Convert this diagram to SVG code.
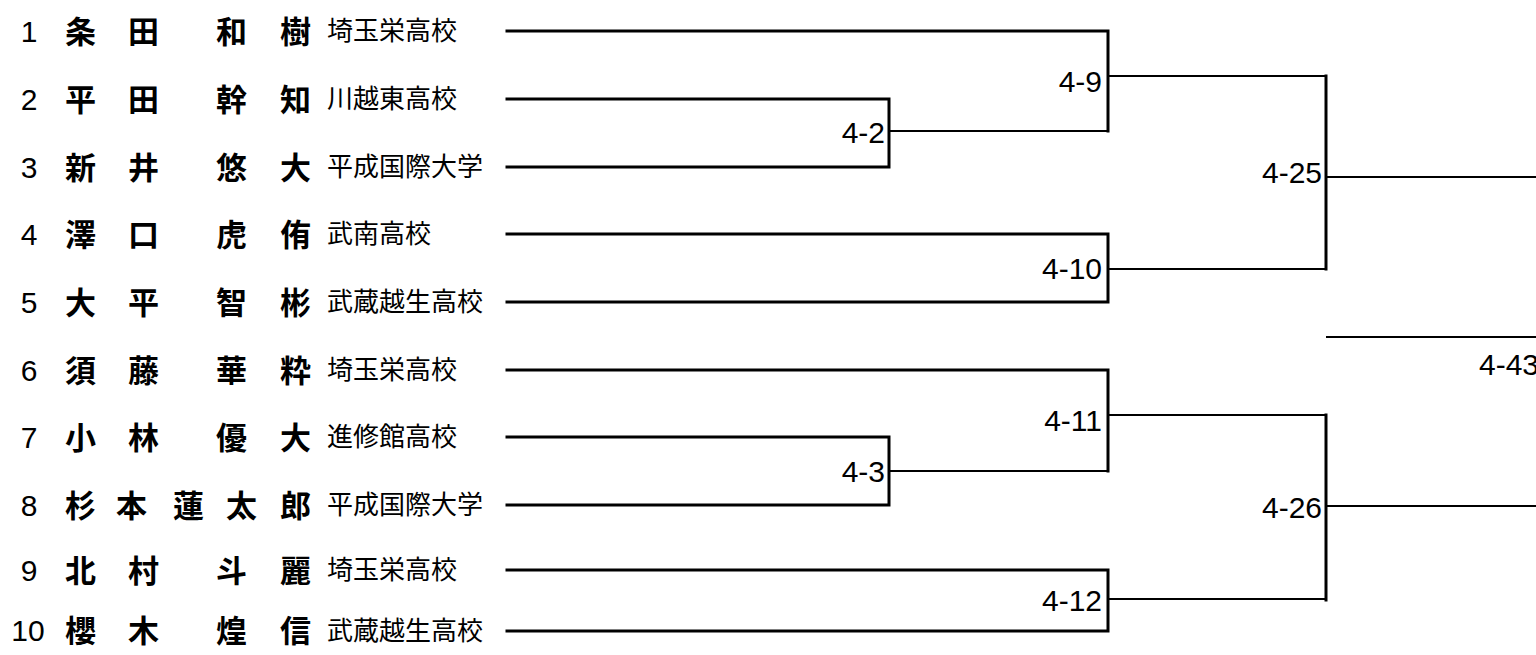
<svg xmlns="http://www.w3.org/2000/svg" width="1536" height="655" viewBox="0 0 1536 655">
<style>
.num{font-family:"Liberation Sans",Arial,sans-serif;font-size:30px;fill:#000;text-anchor:middle}
.name{font-family:"Noto Sans CJK JP","Noto Sans CJK SC",sans-serif;font-size:31px;font-weight:700;fill:#000}
.school{font-family:"Noto Sans CJK JP","Noto Sans CJK SC",sans-serif;font-size:26px;fill:#000}
.lbl{font-family:"Liberation Sans",Arial,sans-serif;font-size:30px;fill:#000;text-anchor:end}
.br{fill:none;stroke:#000;stroke-width:3;stroke-linecap:square}
.out{fill:none;stroke:#000;stroke-width:2.2}
</style>
<rect width="1536" height="655" fill="#fff"/>
<g id="connectors">
<path class="br" d="M507,99 H889 V167 H507"/>
<path class="br" d="M507,31 H1108 V131"/>
<path class="br" d="M507,234 H1108 V302 H507"/>
<path class="br" d="M1326,76 V269"/>
<path class="br" d="M507,437 H889 V505 H507"/>
<path class="br" d="M507,370 H1108 V471"/>
<path class="br" d="M507,570 H1108 V631 H507"/>
<path class="br" d="M1326,415 V600"/>
<path class="out" d="M889,131 H1108"/>
<path class="out" d="M1108,76 H1326"/>
<path class="out" d="M1108,269 H1326"/>
<path class="out" d="M1326,177 H1536"/>
<path class="out" d="M1326,337 H1536"/>
<path class="out" d="M889,471 H1108"/>
<path class="out" d="M1108,415 H1326"/>
<path class="out" d="M1108,599 H1326"/>
<path class="out" d="M1326,506 H1536"/>
</g>
<g id="p1"><text class="num" x="29" y="42">1</text><text class="name" x="65 128 216 280" y="43">条田和樹</text><text class="school" x="327" y="40">埼玉栄高校</text></g>
<g id="p2"><text class="num" x="29" y="110">2</text><text class="name" x="65 128 216 280" y="111">平田幹知</text><text class="school" x="327" y="108">川越東高校</text></g>
<g id="p3"><text class="num" x="29" y="178">3</text><text class="name" x="65 128 216 280" y="179">新井悠大</text><text class="school" x="327" y="176">平成国際大学</text></g>
<g id="p4"><text class="num" x="29" y="245">4</text><text class="name" x="65 128 216 280" y="246">澤口虎侑</text><text class="school" x="327" y="243">武南高校</text></g>
<g id="p5"><text class="num" x="29" y="313">5</text><text class="name" x="65 128 216 280" y="314">大平智彬</text><text class="school" x="327" y="311">武蔵越生高校</text></g>
<g id="p6"><text class="num" x="29" y="381">6</text><text class="name" x="65 128 216 280" y="382">須藤華粋</text><text class="school" x="327" y="379">埼玉栄高校</text></g>
<g id="p7"><text class="num" x="29" y="448">7</text><text class="name" x="65 128 216 280" y="449">小林優大</text><text class="school" x="327" y="446">進修館高校</text></g>
<g id="p8"><text class="num" x="29" y="516">8</text><text class="name" x="65 116 173 226 280" y="517">杉本蓮太郎</text><text class="school" x="327" y="514">平成国際大学</text></g>
<g id="p9"><text class="num" x="29" y="581">9</text><text class="name" x="65 128 216 280" y="582">北村斗麗</text><text class="school" x="327" y="579">埼玉栄高校</text></g>
<g id="p10"><text class="num" x="28" y="641">10</text><text class="name" x="65 128 216 280" y="642">櫻木煌信</text><text class="school" x="327" y="640">武蔵越生高校</text></g>
<g id="m4-2"><text class="lbl" x="885" y="143">4-2</text></g>
<g id="m4-9"><text class="lbl" x="1102" y="92">4-9</text></g>
<g id="m4-10"><text class="lbl" x="1102" y="279">4-10</text></g>
<g id="m4-3"><text class="lbl" x="885" y="482">4-3</text></g>
<g id="m4-11"><text class="lbl" x="1102" y="431">4-11</text></g>
<g id="m4-12"><text class="lbl" x="1102" y="611">4-12</text></g>
<g id="m4-25"><text class="lbl" x="1322" y="183">4-25</text></g>
<g id="m4-26"><text class="lbl" x="1322" y="518">4-26</text></g>
<g id="m4-43"><text class="lbl" x="1479" y="375" style="text-anchor:start">4-43</text></g>
</svg>
